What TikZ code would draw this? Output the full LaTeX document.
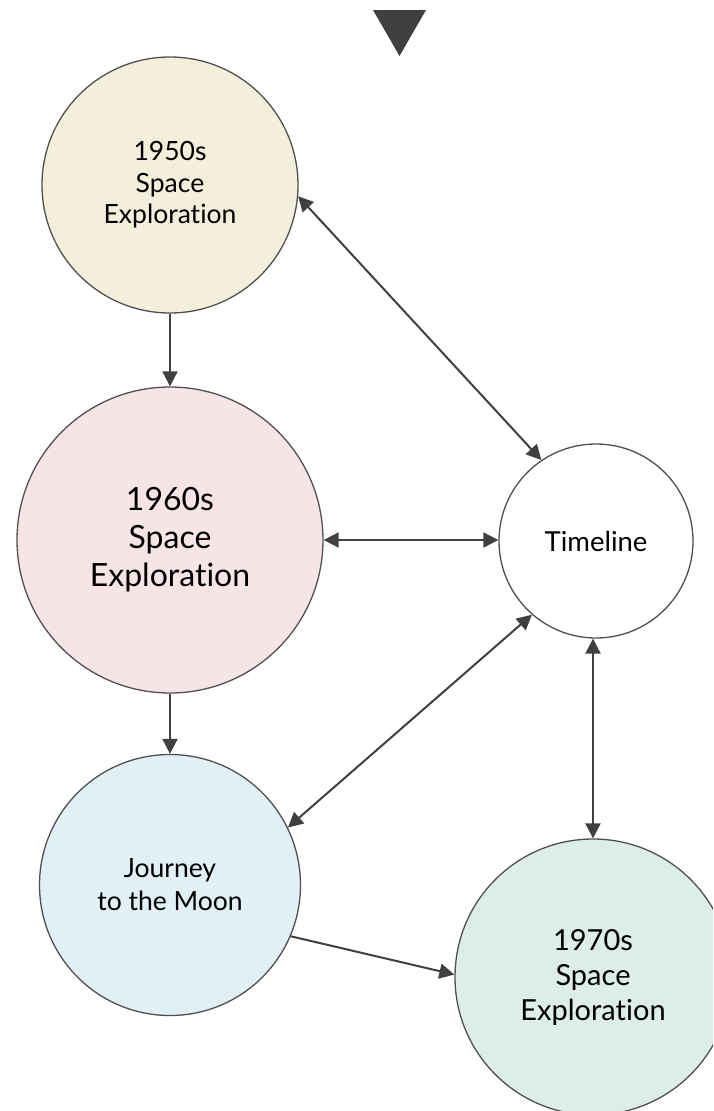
\documentclass[tikz,border=0pt]{standalone}
\usepackage{fontspec}
\setmainfont{Lato}[Ligatures={NoCommon,NoRare}]
\usetikzlibrary{arrows.meta}
\definecolor{edgecol}{HTML}{404040}
\definecolor{ringcol}{HTML}{505050}
\definecolor{cream}{HTML}{F4EFDB}
\definecolor{pinkish}{HTML}{F7E4E6}
\definecolor{bluish}{HTML}{E1F0F5}
\definecolor{greenish}{HTML}{DCEEE5}
\tikzset{
  ring/.style={circle, draw=ringcol, line width=1.3pt, inner sep=0pt, align=center, text=black},
  tip/.tip={Triangle[length=15pt,width=15pt]},
  conn/.style={draw=edgecol, line width=2pt, -tip},
  biconn/.style={draw=edgecol, line width=2pt, tip-tip}
}
\begin{document}
\begin{tikzpicture}[x=1pt,y=-1pt]
\useasboundingbox (0,0) rectangle (713,1111);
\clip (0,0) rectangle (713,1111);
\fill[white] (0,0) rectangle (713,1111);
% top marker
\fill[edgecol] (373,10) -- (426,10) -- (399.5,56) -- cycle;
% nodes
\node[ring, fill=cream, minimum size=256pt, font={\fontsize{26.5}{31.5}\selectfont}] (s50) at (170,185) {1950s\\Space\\Exploration};
\node[ring, fill=pinkish, minimum size=306pt, font={\fontsize{32}{38}\selectfont}] (s60) at (170,540) {1960s\\Space\\Exploration};
\node[ring, fill=white, minimum size=194pt, font={\fontsize{27.5}{30}\selectfont}] (tl) at (596,541) {Timeline};
\node[ring, fill=bluish, minimum size=261pt, font={\fontsize{26.5}{33}\selectfont}] (moon) at (170,885) {Journey\\to the Moon};
\node[ring, fill=greenish, minimum size=276pt, font={\fontsize{29}{35}\selectfont}] (s70) at (593,977) {1970s\\Space\\Exploration};
% connectors
\draw[conn] (s50.south) -- (s60.north);
\draw[conn] (s60.south) -- (moon.north);
\draw[biconn] (s50.-5.3) -- (tl.124.5);
\draw[biconn] (s60.east) -- (s60.east -| tl.west);
\draw[biconn] (tl.229.9) -- (moon.26.4);
\draw[biconn] (tl.south -| s70.north) -- (s70.north);
\draw[conn] (moon.-23.8) -- (s70.179);
\end{tikzpicture}
\end{document}
